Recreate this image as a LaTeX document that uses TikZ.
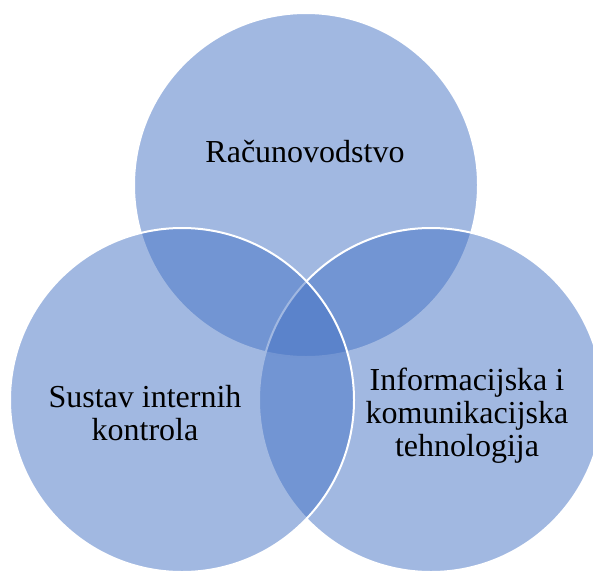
\documentclass[tikz,border=0pt]{standalone}
\usepackage{fontspec}
\setmainfont{Liberation Serif}
\definecolor{vennblue}{HTML}{4472C4}

\begin{document}
\begin{tikzpicture}[x=1pt,y=-1pt,
	vennset/.style={fill=vennblue,fill opacity=0.5,draw=white,line width=2pt},
	settext/.style={font=\fontsize{32}{33}\selectfont,align=center,inner sep=0pt,anchor=base}]
\def\r{172}
\useasboundingbox (0,0) rectangle (593,570);
\clip (0,0) rectangle (593,570);
% three sets, top first
\draw[vennset] (306,185) circle (\r);
\draw[vennset] (431,400) circle (\r);
\draw[vennset] (182,400) circle (\r);
% base is the last line
\node[settext] (racun) at (305,162) {Računovodstvo};
\node[settext] (kontrole) at (145,440) {Sustav internih\\kontrola};
\node[settext] (ikt) at (467,456) {Informacijska i\\komunikacijska\\tehnologija};
\end{tikzpicture}
\end{document}
